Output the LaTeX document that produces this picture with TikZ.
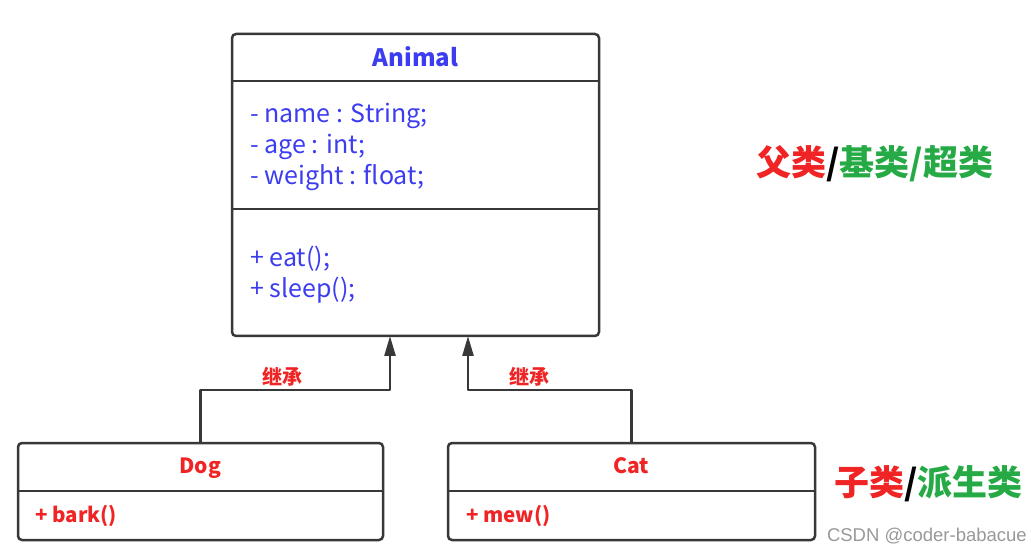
\documentclass[tikz,border=0pt]{standalone}
\usepackage{fontspec}
\setmainfont{Noto Sans CJK SC}
\newfontfamily\markfont{Liberation Sans}
\usetikzlibrary{arrows.meta,positioning}
\definecolor{umlblue}{RGB}{60,60,240}
\definecolor{umlred}{RGB}{240,36,36}
\definecolor{umlgreen}{RGB}{38,170,70}
\definecolor{umlgray}{RGB}{56,56,56}
\begin{document}
\begin{tikzpicture}[x=1pt,y=-1pt,line join=round,
    >={Triangle[length=20pt,width=11pt]},
    classbox/.style={draw=umlgray,line width=2.5pt,rounded corners=4pt,inner sep=0pt},
    divider/.style={draw=umlgray,line width=2.5pt},
    inherit/.style={draw=umlgray,line width=2.5pt,->},
    bigtitle/.style={text=umlblue,font=\fontsize{24}{28}\selectfont\bfseries,anchor=base},
    member/.style={text=umlblue,font=\fontsize{25}{30}\selectfont,anchor=base west,inner sep=0pt},
    subtitle/.style={text=umlred,font=\fontsize{21}{25}\selectfont\bfseries,anchor=base},
    submember/.style={text=umlred,font=\fontsize{20.5}{24}\selectfont\bfseries,anchor=base west,inner sep=0pt},
    relabel/.style={text=umlred,font=\fontsize{20}{24}\selectfont\bfseries},
    sidelabel/.style={font=\fontsize{35}{40}\selectfont\bfseries,anchor=west,inner sep=0pt}]
  \useasboundingbox[fill=white] (0,0) rectangle (1031,553);

  % Base class
  \node[classbox,minimum width=367pt,minimum height=302pt] (animal) at (415.5,185) {};
  \draw[divider] (animal.west |- 0,81) -- (animal.east |- 0,81);
  \draw[divider] (animal.west |- 0,209) -- (animal.east |- 0,209);
  \node[bigtitle] (animalname) at (415.5,67) {Animal};
  \node[member] (attrname) at (250,123) {- name : String;};
  \node[member] (attrage) at (250,154) {- age : int;};
  \node[member] (attrweight) at (250,185) {- weight : float;};
  \node[member] (opeat) at (250,267) {+ eat();};
  \node[member] (opsleep) at (250,298) {+ sleep();};

  % Derived classes
  \node[classbox,minimum width=365pt,minimum height=97pt] (dog) at (200.5,491.5) {};
  \draw[divider] (dog.west |- 0,491) -- (dog.east |- 0,491);
  \node[subtitle] (dogname) at (200.5,473) {Dog};
  \node[submember] (dogbark) at (35,522) {+ bark()};

  \node[classbox,minimum width=367pt,minimum height=97pt] (cat) at (631.5,491.5) {};
  \draw[divider] (cat.west |- 0,491) -- (cat.east |- 0,491);
  \node[subtitle] (catname) at (631.5,473) {Cat};
  \node[submember] (catmew) at (466,522) {+ mew()};

  % Inheritance
  \coordinate (dogtip) at (390,336);
  \coordinate (dogbend) at (390,390);
  \coordinate (cattip) at (468,336);
  \coordinate (catbend) at (468,390);
  \draw[inherit] (dog.north) |- (dogbend) -- (dogtip);
  \draw[inherit] (cat.north) |- (catbend) -- (cattip);
  \node[relabel] (doglabel) at (282,377) {继承};
  \node[relabel] (catlabel) at (529,377) {继承};

  % Side labels
  \node[sidelabel] (superlabel) at (756,164) {\textcolor{umlred}{父类}/\textcolor{umlgreen}{基类/超类}};
  \node[sidelabel] (sublabel) at (834,484) {\textcolor{umlred}{子类}/\textcolor{umlgreen}{派生类}};

  % Watermark
  \node[text=black!40,font=\markfont\fontsize{18.5}{22}\selectfont,anchor=base east,inner sep=0pt] (mark) at (1027,541) {CSDN @coder-babacue};
\end{tikzpicture}
\end{document}
